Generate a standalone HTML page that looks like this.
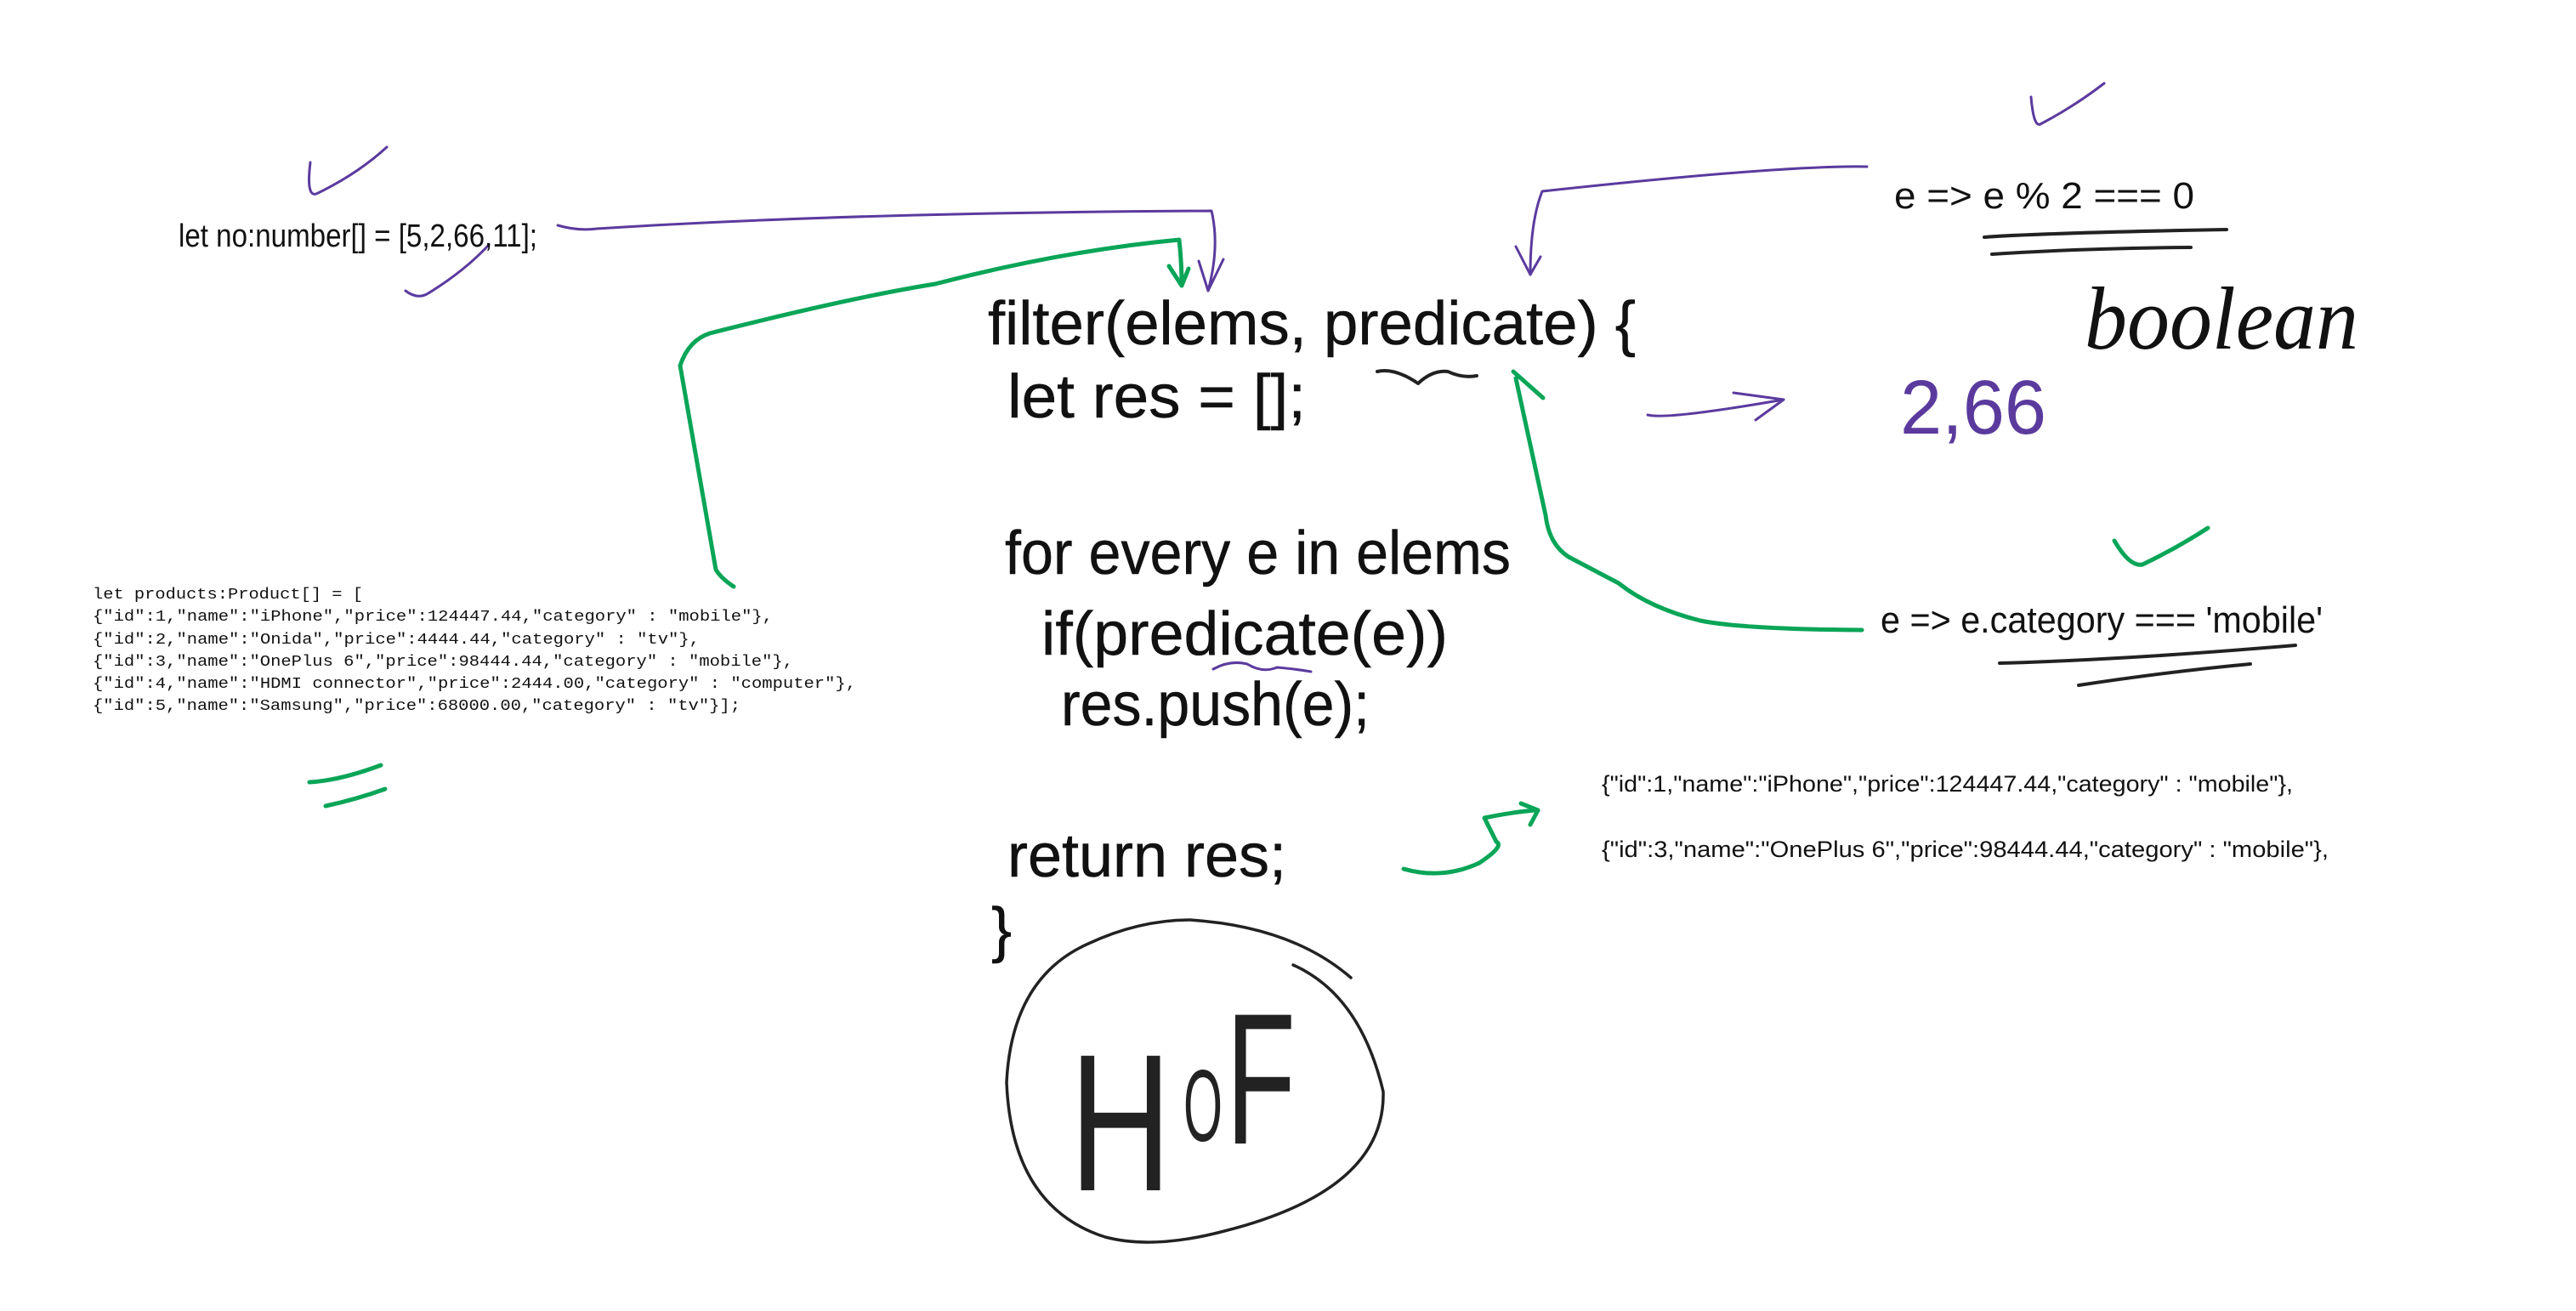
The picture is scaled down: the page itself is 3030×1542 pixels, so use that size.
<!DOCTYPE html>
<html><head><meta charset="utf-8"><style>html,body{margin:0;padding:0;background:#fff}svg{display:block}</style></head>
<body>
<svg width="3030" height="1542" viewBox="0 0 3030 1542" xmlns="http://www.w3.org/2000/svg">
<rect width="3030" height="1542" fill="#fff"/>
<g fill="none" stroke-linecap="round" stroke-linejoin="round">
<g stroke="#5b3a9e" stroke-width="3">
<path d="M365,191 Q360,232 372,228 Q420,205 455,173"/>
<path d="M477,342 Q490,352 502,346 Q545,320 575,288"/>
<path d="M656,265 Q680,272 702,269 Q1000,250 1425,248 Q1435,290 1421,342"/>
<path d="M1410,307 L1421,342 L1439,305"/>
<path d="M2196,196 Q2100,194 1814,225 Q1800,260 1800,323"/>
<path d="M1783,290 L1800,323 L1812,302"/>
<path d="M1427,787 Q1447,776 1467,781 Q1485,792 1502,785 Q1525,787 1542,790"/>
<path d="M1938,488 Q1960,494 2098,470"/>
<path d="M2039,462 L2098,470 L2065,494"/>
<path d="M2389,114 Q2392,150 2400,146 Q2440,125 2475,98"/>
</g>
<g stroke="#0aa558" stroke-width="5">
<path d="M863,690 Q848,680 842,670 L800,430 Q810,400 835,392 Q1000,350 1100,334 Q1250,295 1387,282 Q1390,310 1390,336"/>
<path d="M1375,313 L1390,336 L1398,316"/>
<path d="M2190,741 Q2050,740 2000,730 Q1940,715 1904,686 L1845,655 Q1822,640 1818,606 L1783,445"/>
<path d="M1780,437 L1815,468"/>
<path d="M1651,1022 Q1697,1035 1740,1015 Q1770,995 1760,990 Q1750,970 1746,962 Q1780,955 1806,953"/>
<path d="M1789,945 L1809,953 L1800,970"/>
<path d="M2487,636 Q2505,667 2520,664 Q2560,645 2597,621"/>
<path d="M364,920 Q400,918 448,900"/>
<path d="M383,948 Q420,940 453,928"/>
</g>
<g stroke="#222" stroke-width="4">
<path d="M1620,437 Q1640,432 1668,451 Q1685,435 1703,437 Q1720,445 1737,442"/>
<path d="M2334,279 Q2400,274 2619,270"/>
<path d="M2343,299 Q2450,292 2577,291"/>
<path d="M2352,780 Q2500,776 2700,759"/>
<path d="M2445,806 Q2550,790 2647,781"/>
<path d="M1400,1082 Q1520,1090 1589,1150 M1521,1135 Q1600,1170 1627,1284 Q1630,1400 1440,1448 Q1357,1470 1300,1455 Q1190,1420 1184,1273 Q1190,1150 1280,1110 Q1340,1082 1400,1082" stroke-width="3.5"/>
</g>
</g>
<g font-family="Liberation Sans, sans-serif" fill="#111">
<text x="210" y="290" font-size="38" textLength="422" lengthAdjust="spacingAndGlyphs">let no:number[] = [5,2,66,11];</text>
<g font-family="Liberation Mono, monospace" font-size="18">
<text x="109" y="704" textLength="318" lengthAdjust="spacingAndGlyphs">let products:Product[] = [</text>
<text x="109" y="730" textLength="800" lengthAdjust="spacingAndGlyphs">{"id":1,"name":"iPhone","price":124447.44,"category" : "mobile"},</text>
<text x="109" y="757" textLength="714" lengthAdjust="spacingAndGlyphs">{"id":2,"name":"Onida","price":4444.44,"category" : "tv"},</text>
<text x="109" y="783" textLength="824" lengthAdjust="spacingAndGlyphs">{"id":3,"name":"OnePlus 6","price":98444.44,"category" : "mobile"},</text>
<text x="109" y="809" textLength="898" lengthAdjust="spacingAndGlyphs">{"id":4,"name":"HDMI connector","price":2444.00,"category" : "computer"},</text>
<text x="109" y="835" textLength="762" lengthAdjust="spacingAndGlyphs">{"id":5,"name":"Samsung","price":68000.00,"category" : "tv"}];</text>
</g>
<g font-size="72" stroke="#111" stroke-width="0.5">
<text x="1162" y="405" textLength="762" lengthAdjust="spacingAndGlyphs">filter(elems, predicate) {</text>
<text x="1185" y="491" textLength="351" lengthAdjust="spacingAndGlyphs">let res = [];</text>
<text x="1182" y="675" textLength="595" lengthAdjust="spacingAndGlyphs">for every e in elems</text>
<text x="1225" y="770" textLength="478" lengthAdjust="spacingAndGlyphs">if(predicate(e))</text>
<text x="1248" y="853" textLength="363" lengthAdjust="spacingAndGlyphs">res.push(e);</text>
<text x="1185" y="1031" textLength="328" lengthAdjust="spacingAndGlyphs">return res;</text>
<text x="1166" y="1118">}</text>
</g>
<text x="1884" y="931" font-size="27" textLength="813" lengthAdjust="spacingAndGlyphs">{"id":1,"name":"iPhone","price":124447.44,"category" : "mobile"},</text>
<text x="1884" y="1008" font-size="27" textLength="855" lengthAdjust="spacingAndGlyphs">{"id":3,"name":"OnePlus 6","price":98444.44,"category" : "mobile"},</text>
<text x="2228" y="245" font-size="44" textLength="353" lengthAdjust="spacingAndGlyphs">e =&gt; e % 2 === 0</text>
<text x="2212" y="744" font-size="44" textLength="520" lengthAdjust="spacingAndGlyphs">e =&gt; e.category === 'mobile'</text>
<text x="2452" y="410" font-family="Liberation Serif, serif" font-style="italic" font-size="105" textLength="322" lengthAdjust="spacingAndGlyphs">boolean</text>
<text x="2235" y="510" font-size="90" fill="#5b3a9e" textLength="172" lengthAdjust="spacingAndGlyphs">2,66</text>
<g font-size="230" fill="#222">
<text x="1258" y="1400" textLength="120" lengthAdjust="spacingAndGlyphs">H</text>
<text x="1392" y="1342" font-size="120" textLength="46" lengthAdjust="spacingAndGlyphs">O</text>
<text x="1442" y="1345" font-size="220" textLength="82" lengthAdjust="spacingAndGlyphs">F</text>
</g>
</g>
</svg>
</body></html>
